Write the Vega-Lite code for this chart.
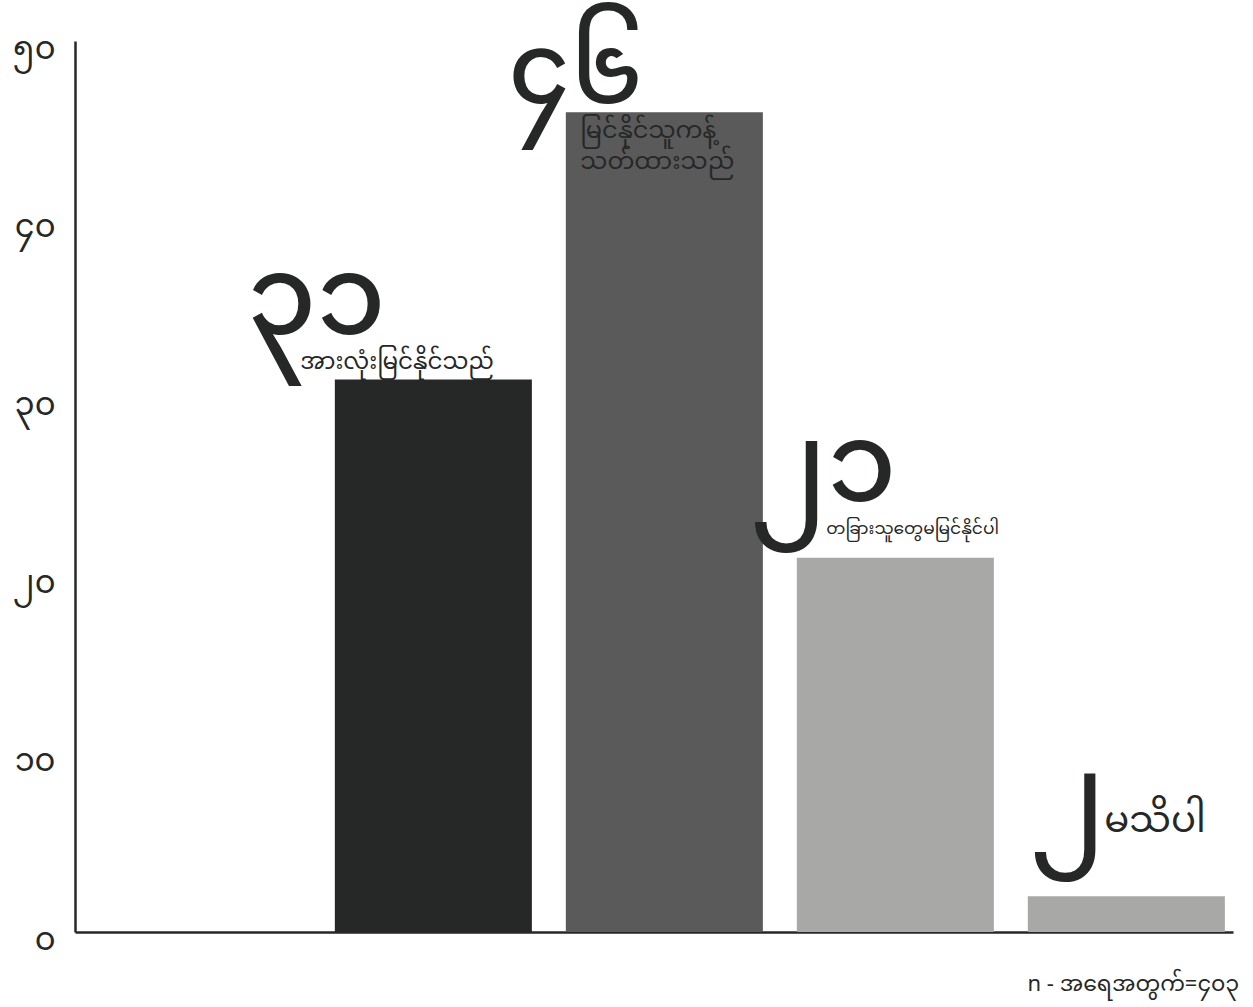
{
  "$schema": "https://vega.github.io/schema/vega-lite/v6.json",
  "autosize": {"type": "none"},
  "width": 1158,
  "height": 891,
  "padding": {"left": 75, "top": 41, "right": 20, "bottom": 75},
  "background": "white",
  "config": {
    "view": {"stroke": null},
    "font": "Noto Sans Myanmar, Noto Sans, sans-serif",
    "text": {"font": "Noto Sans Myanmar, Noto Sans, sans-serif", "color": "#262827", "lineBreak": "\n"}
  },
  "title": {
    "text": "n - အရေအတွက်=၄၀၃",
    "orient": "bottom",
    "anchor": "end",
    "fontSize": 22,
    "fontWeight": "normal",
    "color": "#262827",
    "font": "Noto Sans Myanmar, Noto Sans, sans-serif",
    "offset": 19,
    "dx": 6
  },
  "data": {
    "values": [
      {"cat": "all", "value": 31, "num": "၃၁", "label": "အားလုံးမြင်နိုင်သည်"},
      {"cat": "restricted", "value": 46, "num": "၄၆", "label": "မြင်နိုင်သူကန့်\nသတ်ထားသည်"},
      {"cat": "others", "value": 21, "num": "၂၁", "label": "တခြားသူတွေမမြင်နိုင်ပါ"},
      {"cat": "dk", "value": 2, "num": "၂", "label": "မသိပါ"}
    ]
  },
  "encoding": {
    "x": {
      "field": "cat",
      "type": "nominal",
      "sort": null,
      "scale": {"domain": ["blank", "all", "restricted", "others", "dk"], "paddingInner": 0.147, "paddingOuter": 0.08, "align": 0.78},
      "axis": {"title": null, "labels": false, "ticks": false, "domainColor": "#262827", "domainWidth": 2.5}
    },
    "y": {
      "field": "value",
      "type": "quantitative",
      "scale": {"domain": [0, 50], "nice": false},
      "axis": {
        "title": null,
        "values": [0, 10, 20, 30, 40, 50],
        "labelExpr": "['၀','၁၀','၂၀','၃၀','၄၀','၅၀'][round(datum.value/10)]",
        "ticks": false,
        "grid": false,
        "domainColor": "#262827",
        "domainWidth": 2.5,
        "labelFontSize": 32,
        "labelColor": "#262827",
        "labelPadding": 20,
        "labelFont": "Noto Sans Myanmar, Noto Sans, sans-serif",
        "labelOffset": 7
      }
    }
  },
  "layer": [
    {
      "mark": {"type": "bar"},
      "encoding": {
        "color": {
          "field": "cat",
          "type": "nominal",
          "scale": {"domain": ["all", "restricted", "others", "dk"], "range": ["#262827", "#5a5a5a", "#a8a8a7", "#a8a8a7"]},
          "legend": null
        }
      }
    },
    {
      "transform": [{"filter": "datum.cat == 'all'"}],
      "mark": {"type": "text", "align": "left", "baseline": "alphabetic", "fontSize": 111, "fontWeight": 500, "dx": -186, "dy": -46},
      "encoding": {"text": {"field": "num"}}
    },
    {
      "transform": [{"filter": "datum.cat == 'restricted'"}],
      "mark": {"type": "text", "align": "left", "baseline": "alphabetic", "fontSize": 100, "fontWeight": 500, "dx": -156, "dy": -9},
      "encoding": {"text": {"field": "num"}}
    },
    {
      "transform": [{"filter": "datum.cat == 'others'"}],
      "mark": {"type": "text", "align": "left", "baseline": "alphabetic", "fontSize": 111, "fontWeight": 500, "dx": -145, "dy": -57},
      "encoding": {"text": {"field": "num"}}
    },
    {
      "transform": [{"filter": "datum.cat == 'dk'"}],
      "mark": {"type": "text", "align": "left", "baseline": "alphabetic", "fontSize": 108, "fontWeight": 500, "dx": -96, "dy": -64},
      "encoding": {"text": {"field": "num"}}
    },
    {
      "transform": [{"filter": "datum.cat == 'all'"}],
      "mark": {"type": "text", "align": "left", "baseline": "alphabetic", "fontSize": 23, "dx": -133, "dy": -11},
      "encoding": {"text": {"field": "label"}}
    },
    {
      "transform": [{"filter": "datum.cat == 'restricted'"}],
      "mark": {"type": "text", "align": "left", "baseline": "alphabetic", "fontSize": 24, "dx": -84, "dy": 26, "lineHeight": 31},
      "encoding": {"text": {"field": "label"}}
    },
    {
      "transform": [{"filter": "datum.cat == 'others'"}],
      "mark": {"type": "text", "align": "left", "baseline": "alphabetic", "fontSize": 17, "dx": -69, "dy": -24},
      "encoding": {"text": {"field": "label"}}
    },
    {
      "transform": [{"filter": "datum.cat == 'dk'"}],
      "mark": {"type": "text", "align": "left", "baseline": "alphabetic", "fontSize": 37, "dx": -22, "dy": -64},
      "encoding": {"text": {"field": "label"}}
    }
  ]
}
